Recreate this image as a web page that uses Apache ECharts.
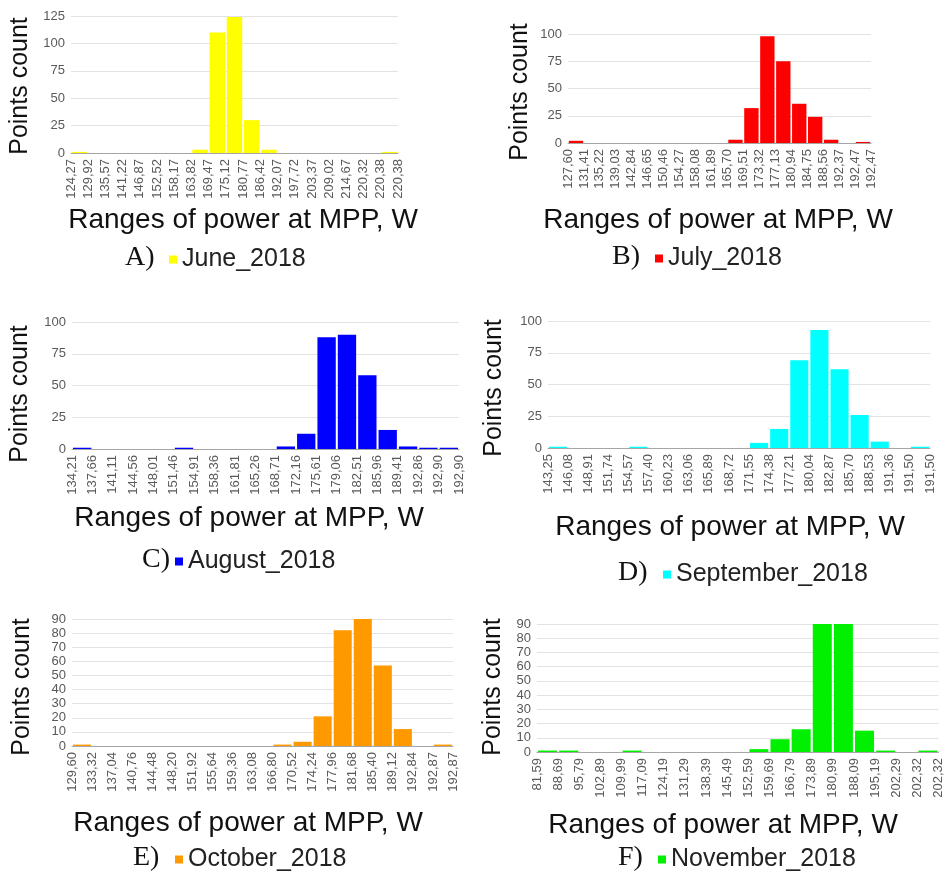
<!DOCTYPE html>
<html>
<head>
<meta charset="utf-8">
<script src="https://cdn.jsdelivr.net/npm/echarts@6/dist/echarts.min.js"></script>
<style>
  html, body { margin: 0; padding: 0; background: #fff; }
  #chart { width: 945px; height: 875px; }
</style>
</head>
<body>
<div id="chart"></div>
<script>
// bin edges (the tick labels) and the counts of each bin, per month
var juneEdges = ['124,27','129,92','135,57','141,22','146,87','152,52','158,17','163,82','169,47','175,12',
  '180,77','186,42','192,07','197,72','203,37','209,02','214,67','220,32','220,38','220,38'];
var juneCounts = [1,0,0,0,0,0,0,3,110,124,30,3,0,0,0,0,0,0,1];

var julyEdges = ['127,60','131,41','135,22','139,03','142,84','146,65','150,46','154,27','158,08','161,89',
  '165,70','169,51','173,32','177,13','180,94','184,75','188,56','192,37','192,47','192,47'];
var julyCounts = [2,0,0,0,0,0,0,0,0,0,3,32,98,75,36,24,3,0,1];

var augEdges = ['134,21','137,66','141,11','144,56','148,01','151,46','154,91','158,36','161,81','165,26',
  '168,71','172,16','175,61','179,06','182,51','185,96','189,41','192,86','192,90','192,90'];
var augCounts = [1,0,0,0,0,1,0,0,0,0,2,12,88,90,58,15,2,1,1];

var sepEdges = ['143,25','146,08','148,91','151,74','154,57','157,40','160,23','163,06','165,89','168,72',
  '171,55','174,38','177,21','180,04','182,87','185,70','188,53','191,36','191,50','191,50'];
var sepCounts = [1,0,0,0,1,0,0,0,0,0,4,15,69,93,62,26,5,0,1];

var octEdges = ['129,60','133,32','137,04','140,76','144,48','148,20','151,92','155,64','159,36','163,08',
  '166,80','170,52','174,24','177,96','181,68','185,40','189,12','192,84','192,87','192,87'];
var octCounts = [1,0,0,0,0,0,0,0,0,0,1,3,21,82,90,57,12,0,1];

var novEdges = ['81,59','88,69','95,79','102,89','109,99','117,09','124,19','131,29','138,39','145,49',
  '152,59','159,69','166,79','173,89','180,99','188,09','195,19','202,29','202,32','202,32'];
var novCounts = [1,1,0,0,1,0,0,0,0,0,2,9,16,100,100,15,1,0,1];   // two bars run past the 90 cap

var yMax = [125, 100, 100, 100, 90, 90];
var yStep = [25, 25, 25, 25, 10, 10];

var FONT = '"Liberation Sans", Arial, sans-serif';
var SERIF = '"Liberation Serif", "Times New Roman", serif';

var panels = [
  { name: 'June_2018', letter: 'A)', edges: juneEdges, counts: juneCounts, color: '#ffff00',
    box: [71, 16, 327, 137], xt: [243, 220], yt: [20, 86], lg: [125, 169, 258] },
  { name: 'July_2018', letter: 'B)', edges: julyEdges, counts: julyCounts, color: '#ff0000',
    box: [568, 34, 303, 109], xt: [718, 220], yt: [520, 92], lg: [612, 655, 257] },
  { name: 'August_2018', letter: 'C)', edges: augEdges, counts: augCounts, color: '#0000ff',
    box: [72, 322, 387, 127], xt: [249, 518], yt: [20, 394], lg: [142, 175, 560] },
  { name: 'September_2018', letter: 'D)', edges: sepEdges, counts: sepCounts, color: '#00ffff',
    box: [548, 321, 382, 127], xt: [730, 527], yt: [494, 388], lg: [618, 663, 573] },
  { name: 'October_2018', letter: 'E)', edges: octEdges, counts: octCounts, color: '#ff9900',
    box: [72, 619, 381, 127], xt: [248, 823], yt: [22, 687], lg: [133, 175, 858] },
  { name: 'November_2018', letter: 'F)', edges: novEdges, counts: novCounts, color: '#00f000',
    box: [537, 624, 403, 128], xt: [723, 825], yt: [493, 687], lg: [618, 658, 858] }
];

var grids = [], xAxes = [], yAxes = [], series = [], legends = [], texts = [];

panels.forEach(function (p, i) {
  grids.push({ left: p.box[0], top: p.box[1], width: p.box[2], height: p.box[3] });

  // axis the bars sit on (one slot per bin)
  xAxes.push({ type: 'category', gridIndex: i, position: 'bottom', show: false,
    data: p.edges.slice(0, p.counts.length) });
  // axis that puts the edge labels on the bin boundaries
  xAxes.push({
    type: 'category', gridIndex: i, position: 'bottom', data: p.edges, boundaryGap: false,
    axisLine: { lineStyle: { color: '#a6a6a6', width: 1 } },
    axisTick: { show: false },
    splitLine: { show: false },
    axisLabel: { interval: 0, rotate: 90, margin: 6, fontSize: 13, color: '#595959', fontFamily: FONT }
  });

  yAxes.push({
    type: 'value', gridIndex: i, min: 0, max: yMax[i], interval: yStep[i],
    axisLine: { show: false }, axisTick: { show: false },
    splitLine: { lineStyle: { color: '#e3e3e3', width: 1 } },
    axisLabel: { margin: 6, fontSize: 13, color: '#595959', fontFamily: FONT }
  });

  series.push({
    type: 'bar', name: p.name, xAxisIndex: 2 * i, yAxisIndex: i,
    data: p.counts, barCategoryGap: '10%', clip: true,
    itemStyle: { color: p.color }
  });

  legends.push({
    data: [p.name], left: p.lg[1], top: p.lg[2] - 11, padding: 0,
    icon: 'rect', itemWidth: 8, itemHeight: 8, selectedMode: false,
    textStyle: { fontSize: 25, color: '#222', fontFamily: FONT }
  });

  texts.push({
    type: 'text', x: p.lg[0], y: p.lg[2],
    style: { text: p.letter, font: '28px ' + SERIF, fill: '#111', textAlign: 'left', textVerticalAlign: 'middle' }
  });
  texts.push({
    type: 'text', x: p.xt[0], y: p.xt[1],
    style: { text: 'Ranges of power at MPP, W', font: '28px ' + FONT, fill: '#111', textAlign: 'center', textVerticalAlign: 'middle' }
  });
  texts.push({
    type: 'text', x: p.yt[0], y: p.yt[1], rotation: Math.PI / 2,
    style: { text: 'Points count', font: '25px ' + FONT, fill: '#111', textAlign: 'center', textVerticalAlign: 'middle' }
  });
});

var myChart = echarts.init(document.getElementById('chart'));
myChart.setOption({
  animation: false,
  backgroundColor: '#fff',
  grid: grids,
  xAxis: xAxes,
  yAxis: yAxes,
  legend: legends,
  graphic: texts,
  series: series
});
</script>
</body>
</html>
